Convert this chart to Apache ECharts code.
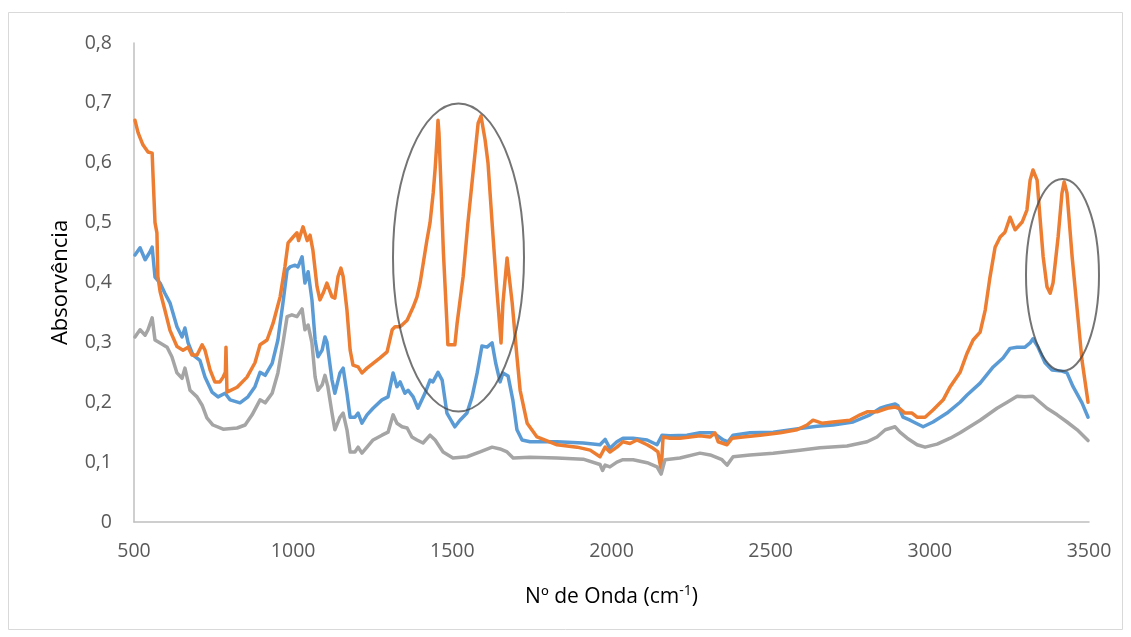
<!DOCTYPE html>
<html>
<head>
<meta charset="utf-8">
<script src="https://cdn.jsdelivr.net/npm/echarts@6/dist/echarts.min.js"></script>
<style>html,body{margin:0;padding:0;background:#fff;}#chart{width:1131px;height:637px;}</style>
</head>
<body>
<div id="chart"></div>
<script>
// Wavenumber ticks and absorbance ticks
var xTicks = [500, 1000, 1500, 2000, 2500, 3000, 3500];
var yTicks = [0, 0.1, 0.2, 0.3, 0.4, 0.5, 0.6, 0.7, 0.8];

// Blue series [wavenumber, absorbance]
var blueSeries = [[503,0.446],[519,0.458],[535,0.438],[550,0.451],[557,0.459],[566,0.409],[582,0.399],[597,0.382],[613,0.366],[635,0.326],[651,0.309],[660,0.324],[670,0.299],[685,0.279],[707,0.27],[723,0.242],[745,0.217],[764,0.209],[786,0.215],[802,0.204],[833,0.199],[858,0.209],[880,0.226],[896,0.25],[912,0.245],[934,0.265],[952,0.304],[968,0.366],[981,0.421],[990,0.426],[1006,0.429],[1015,0.426],[1028,0.443],[1037,0.399],[1047,0.418],[1059,0.371],[1069,0.304],[1078,0.276],[1091,0.287],[1100,0.309],[1106,0.301],[1122,0.237],[1131,0.215],[1147,0.249],[1157,0.257],[1169,0.215],[1179,0.175],[1194,0.175],[1204,0.182],[1216,0.165],[1232,0.179],[1251,0.19],[1279,0.204],[1298,0.209],[1314,0.249],[1326,0.226],[1336,0.234],[1351,0.215],[1361,0.22],[1377,0.209],[1392,0.19],[1414,0.215],[1430,0.237],[1439,0.234],[1455,0.25],[1468,0.237],[1483,0.182],[1499,0.167],[1508,0.159],[1524,0.17],[1546,0.182],[1562,0.209],[1578,0.249],[1593,0.294],[1609,0.292],[1625,0.299],[1636,0.266],[1650,0.234],[1659,0.249],[1675,0.244],[1690,0.204],[1703,0.154],[1719,0.137],[1744,0.134],[1829,0.134],[1911,0.132],[1964,0.129],[1980,0.138],[1995,0.123],[2017,0.134],[2036,0.14],[2068,0.14],[2112,0.137],[2143,0.129],[2159,0.145],[2184,0.144],[2237,0.145],[2278,0.149],[2319,0.149],[2351,0.137],[2366,0.134],[2382,0.145],[2435,0.149],[2508,0.15],[2592,0.156],[2646,0.16],[2696,0.162],[2759,0.167],[2812,0.179],[2844,0.19],[2866,0.194],[2891,0.197],[2900,0.194],[2916,0.175],[2938,0.17],[2960,0.164],[2979,0.159],[3010,0.167],[3054,0.182],[3095,0.2],[3117,0.212],[3158,0.232],[3199,0.259],[3230,0.274],[3252,0.29],[3274,0.292],[3299,0.292],[3315,0.299],[3324,0.306],[3340,0.292],[3362,0.266],[3384,0.254],[3415,0.252],[3431,0.249],[3450,0.226],[3478,0.199],[3497,0.175]];

// Orange series [wavenumber, absorbance]
var orangeSeries = [[503,0.671],[513,0.65],[528,0.63],[544,0.618],[557,0.616],[560,0.576],[566,0.50],[572,0.483],[575,0.41],[582,0.385],[597,0.354],[613,0.32],[635,0.293],[654,0.287],[670,0.292],[682,0.279],[698,0.279],[714,0.296],[723,0.287],[739,0.254],[754,0.234],[770,0.234],[780,0.242],[787,0.25],[789,0.292],[792,0.217],[824,0.225],[855,0.242],[880,0.266],[896,0.296],[918,0.304],[937,0.332],[959,0.376],[974,0.426],[984,0.466],[1000,0.476],[1012,0.483],[1017,0.47],[1031,0.493],[1044,0.47],[1053,0.479],[1062,0.454],[1075,0.393],[1084,0.371],[1094,0.382],[1106,0.399],[1122,0.376],[1131,0.374],[1141,0.41],[1150,0.424],[1157,0.41],[1169,0.354],[1179,0.287],[1188,0.262],[1204,0.259],[1216,0.249],[1232,0.257],[1251,0.265],[1273,0.274],[1295,0.284],[1311,0.321],[1320,0.326],[1336,0.326],[1358,0.337],[1377,0.359],[1389,0.376],[1399,0.40],[1408,0.43],[1420,0.47],[1430,0.50],[1440,0.55],[1446,0.59],[1452,0.64],[1455,0.671],[1458,0.65],[1463,0.58],[1472,0.45],[1483,0.332],[1486,0.296],[1508,0.296],[1515,0.332],[1534,0.41],[1549,0.50],[1565,0.583],[1581,0.666],[1590,0.678],[1603,0.638],[1612,0.60],[1628,0.476],[1640,0.387],[1653,0.299],[1659,0.366],[1672,0.441],[1675,0.426],[1688,0.366],[1703,0.276],[1713,0.22],[1735,0.165],[1766,0.142],[1829,0.129],[1892,0.125],[1933,0.12],[1964,0.109],[1980,0.125],[1995,0.117],[2017,0.125],[2036,0.134],[2058,0.131],[2080,0.137],[2112,0.129],[2131,0.123],[2146,0.117],[2156,0.087],[2162,0.142],[2184,0.14],[2215,0.14],[2247,0.142],[2278,0.144],[2310,0.142],[2325,0.149],[2335,0.134],[2363,0.129],[2379,0.14],[2413,0.142],[2467,0.145],[2530,0.149],[2583,0.154],[2614,0.162],[2633,0.17],[2661,0.165],[2696,0.167],[2749,0.17],[2781,0.179],[2803,0.184],[2834,0.184],[2866,0.19],[2891,0.192],[2906,0.189],[2922,0.182],[2944,0.182],[2960,0.175],[2985,0.175],[3010,0.187],[3042,0.204],[3064,0.226],[3095,0.25],[3117,0.282],[3136,0.304],[3158,0.317],[3174,0.354],[3189,0.409],[3205,0.459],[3221,0.476],[3236,0.484],[3252,0.509],[3268,0.488],[3290,0.501],[3305,0.521],[3315,0.571],[3324,0.588],[3337,0.571],[3346,0.509],[3356,0.443],[3368,0.393],[3378,0.382],[3387,0.399],[3403,0.476],[3415,0.549],[3422,0.568],[3431,0.549],[3447,0.443],[3463,0.354],[3478,0.27],[3497,0.20]];

// Gray series [wavenumber, absorbance]
var graySeries = [[503,0.309],[519,0.321],[535,0.312],[544,0.321],[557,0.341],[566,0.304],[582,0.299],[604,0.292],[619,0.276],[635,0.249],[651,0.24],[660,0.257],[676,0.22],[698,0.209],[714,0.195],[729,0.174],[748,0.162],[780,0.155],[824,0.157],[849,0.162],[871,0.179],[896,0.204],[912,0.199],[934,0.215],[952,0.249],[968,0.299],[981,0.343],[996,0.346],[1012,0.343],[1028,0.356],[1037,0.321],[1047,0.329],[1059,0.299],[1069,0.242],[1078,0.22],[1091,0.229],[1100,0.245],[1109,0.226],[1122,0.182],[1131,0.154],[1147,0.175],[1157,0.182],[1169,0.154],[1179,0.117],[1194,0.117],[1204,0.125],[1216,0.115],[1232,0.125],[1251,0.137],[1279,0.145],[1298,0.15],[1314,0.179],[1326,0.165],[1342,0.159],[1358,0.157],[1373,0.142],[1389,0.137],[1408,0.132],[1430,0.145],[1446,0.137],[1471,0.117],[1502,0.107],[1546,0.109],[1587,0.117],[1625,0.125],[1650,0.122],[1672,0.117],[1691,0.107],[1744,0.108],[1829,0.107],[1911,0.105],[1964,0.096],[1972,0.086],[1980,0.095],[1995,0.092],[2017,0.1],[2036,0.104],[2068,0.104],[2112,0.099],[2143,0.092],[2156,0.08],[2168,0.104],[2215,0.107],[2278,0.115],[2310,0.112],[2347,0.104],[2363,0.095],[2382,0.109],[2435,0.112],[2508,0.115],[2592,0.12],[2655,0.124],[2740,0.127],[2803,0.134],[2834,0.142],[2860,0.154],[2891,0.159],[2906,0.15],[2929,0.14],[2960,0.129],[2985,0.125],[3023,0.13],[3064,0.14],[3095,0.149],[3158,0.17],[3211,0.19],[3243,0.2],[3274,0.21],[3299,0.209],[3324,0.21],[3346,0.2],[3368,0.19],[3400,0.179],[3431,0.167],[3463,0.154],[3497,0.136]];

var chart = echarts.init(document.getElementById('chart'));
var fontFam = '"Open Sans", "Liberation Sans", sans-serif';

function lineSeries(data, color) {
  return {
    type: 'line', data: data, showSymbol: false, symbol: 'none',
    lineStyle: { color: color, width: 3.5, join: 'round', cap: 'round' },
    itemStyle: { color: color }, animation: false, clip: true
  };
}

chart.setOption({
  animation: false,
  backgroundColor: '#ffffff',
  grid: { left: 134, right: 42, top: 43, bottom: 115, containLabel: false },
  xAxis: {
    type: 'value', min: xTicks[0], max: xTicks[xTicks.length - 1], interval: 500,
    name: '{n|Nº de Onda (cm}{s|-1}{n|)}', nameLocation: 'middle', nameGap: 62,
    nameTextStyle: { rich: {
      n: { fontFamily: fontFam, fontSize: 21, color: '#000000' },
      s: { fontFamily: fontFam, fontSize: 14, color: '#000000', verticalAlign: 'top', padding: [0, 0, 12, 0] }
    } },
    axisLine: { show: true, lineStyle: { color: '#bfbfbf', width: 1.5 } },
    axisTick: { show: false },
    splitLine: { show: false },
    axisLabel: { color: '#595959', fontSize: 19.5, fontFamily: fontFam, margin: 19,
      formatter: function (v) { return String(v); } }
  },
  yAxis: {
    type: 'value', min: yTicks[0], max: yTicks[yTicks.length - 1], interval: 0.1,
    name: 'Absorvência', nameLocation: 'middle', nameGap: 62, nameRotate: 90,
    nameTextStyle: { fontFamily: fontFam, fontSize: 22, color: '#000000' },
    axisLine: { show: true, lineStyle: { color: '#bfbfbf', width: 1.5 } },
    axisTick: { show: false },
    splitLine: { show: false },
    axisLabel: { color: '#595959', fontSize: 19.5, fontFamily: fontFam, margin: 22,
      formatter: function (v) { return String(Math.round(v * 10) / 10).replace('.', ','); } }
  },
  series: [
    lineSeries(blueSeries, '#5B9BD5'),
    lineSeries(orangeSeries, '#ED7D31'),
    lineSeries(graySeries, '#A5A5A5')
  ],
  graphic: [
    { type: 'rect', shape: { x: 8.5, y: 12.5, width: 1114, height: 617 }, style: { fill: 'none', stroke: '#d9d9d9', lineWidth: 1 }, silent: true },
    { type: 'ellipse', shape: { cx: 458.5, cy: 257.5, rx: 65.5, ry: 154 }, style: { fill: 'none', stroke: 'rgba(70,70,70,0.75)', lineWidth: 2 }, z: 100, silent: true },
    { type: 'ellipse', shape: { cx: 1062.5, cy: 275, rx: 36.5, ry: 96 }, style: { fill: 'none', stroke: 'rgba(70,70,70,0.75)', lineWidth: 2 }, z: 100, silent: true }
  ]
});
</script>
</body>
</html>
